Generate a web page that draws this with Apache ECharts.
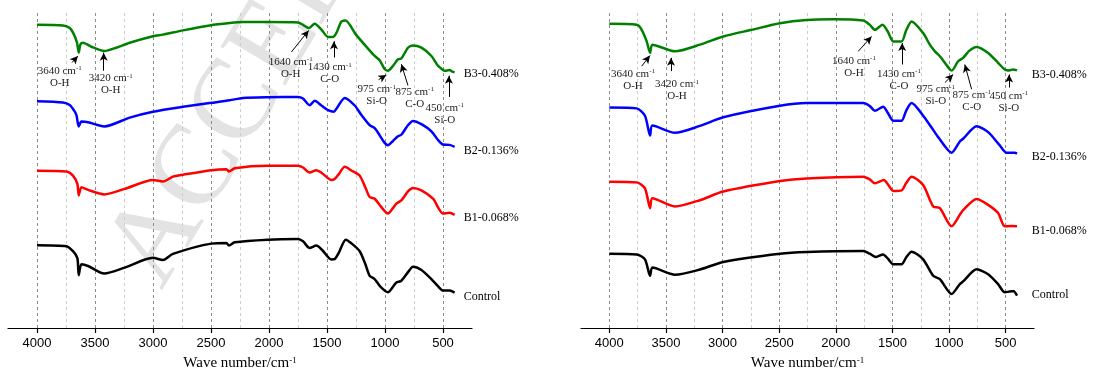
<!DOCTYPE html>
<html><head><meta charset="utf-8">
<script src="https://cdn.jsdelivr.net/npm/echarts@6/dist/echarts.min.js"></script>
<style>html,body{margin:0;padding:0;background:#fff}#c{width:1094px;height:376px}</style>
</head><body><div id="c"></div>
<script>
// ---------- data (wavenumber cm-1, relative transmittance, offset stacked) ----------
const seriesNames = ['Control', 'B1-0.068%', 'B2-0.136%', 'B3-0.408%'];
const xTicks = [500, 1000, 1500, 2000, 2500, 3000, 3500, 4000];
const xMinorGrid = [750, 1250, 1750, 2250, 2750, 3250, 3750];
const peakWn = ['3640', '3420', '1640', '1430', '975', '875', '450'];
const peakBond = ['O-H', 'O-H', 'O-H', 'C-O', 'Si-O', 'C-O', 'Si-O'];

const leftControl = [[4000,84],[3747,83],[3690,78],[3652,71],[3640,53.7],[3617,64.7],[3560,63],[3420,55.3],[3244,61.3],[3000,71.3],[2914,69],[2828,75.3],[2497,85.7],[2367,86.3],[2345,83.7],[2296,87],[2009,89.7],[1750,90.3],[1707,88],[1650,81.3],[1592,83.7],[1540,79],[1462,69.7],[1434,70],[1400,76],[1338,89.7],[1290,86],[1218,78],[1170,65],[1132,53],[1089,49.7],[1040,42],[975,36.3],[930,42],[902,46.3],[859,48],[800,57],[759,62.3],[686,59],[600,49.7],[540,42],[500,38],[443,38],[400,36]];
const leftB1 = [[4000,159.7],[3747,159],[3690,154.7],[3652,146.3],[3640,134.7],[3617,143],[3560,140.3],[3420,135.7],[3244,141.3],[3000,150.3],[2914,148.7],[2828,153.7],[2741,155.7],[2497,160.3],[2367,161.3],[2345,159],[2296,162.3],[2009,164.7],[1750,164.7],[1707,163],[1650,158],[1592,160.3],[1540,157],[1462,150.3],[1434,151.3],[1400,156],[1347,163.7],[1290,160],[1218,154.7],[1170,143],[1132,133],[1089,131.3],[1040,124],[975,116.3],[930,122],[902,126.3],[859,129.7],[800,139],[759,142.3],[686,139.7],[586,131.3],[540,122],[500,116.3],[443,117],[400,115]];
const leftB2 = [[4000,230.3],[3776,229],[3718,226.5],[3681,221],[3660,216.3],[3640,204.7],[3617,209.7],[3560,209],[3420,204.7],[3201,213.7],[3000,219.7],[2741,224.7],[2497,228.7],[2339,231.3],[2224,233.7],[2009,234.5],[1750,234.7],[1707,233],[1650,226.3],[1606,230.7],[1548,226],[1491,221.3],[1440,219.7],[1417,223],[1347,233.7],[1261,226],[1203,216.3],[1132,206],[1089,203],[1046,195.7],[1003,188],[975,185.7],[931,190],[888,194.7],[859,196.3],[802,206],[759,210.3],[686,207],[600,199.7],[543,191],[500,186.3],[443,186],[400,184]];
const leftB3 = [[4000,308],[3776,307.3],[3718,304.7],[3681,298],[3655,289.7],[3640,279.7],[3626,288],[3603,289.7],[3531,285.7],[3420,281.3],[3316,284.7],[3201,289.7],[3000,296.3],[2914,298],[2741,302.3],[2511,307.3],[2339,309.7],[2224,310.7],[2009,310.7],[1750,310.3],[1707,308],[1658,304.7],[1606,309],[1548,303],[1491,295.7],[1448,295.7],[1419,299.7],[1376,311.3],[1341,312.3],[1250,298],[1165,286.3],[1089,276.3],[1046,272],[1003,263],[975,261.3],[931,266.3],[888,273],[859,273.7],[802,284.7],[759,287],[686,284.7],[600,276.3],[543,266.3],[500,262],[486,261.3],[443,262],[420,260.3],[400,259.7]];

const rightControl = [[4000,75],[3758,74.3],[3685,69.3],[3640,52.7],[3620,61],[3420,53.7],[3200,59],[2994,66.7],[2493,75],[2257,76.7],[1758,77.7],[1700,75],[1647,71.7],[1582,74.3],[1540,70],[1493,64.3],[1419,64.3],[1380,71],[1331,77],[1229,69.3],[1140,52.7],[1081,49.3],[978,34.3],[905,44.3],[876,47],[757,59.3],[655,54.3],[567,44.3],[508,36],[450,37],[430,37],[400,32.7]];
const rightB1 = [[4000,147.7],[3758,147],[3685,141],[3640,121],[3620,131],[3420,122.7],[3200,129],[2994,137.7],[2493,148.3],[2257,151],[1758,152.7],[1700,150],[1655,146],[1575,149.3],[1540,145],[1493,138.3],[1419,139],[1380,146],[1331,152.7],[1229,144.3],[1140,122.7],[1081,121],[978,102.7],[905,114.3],[876,119],[757,130.3],[655,124.3],[567,116],[508,102.7],[450,103],[400,102.7]];
const rightB2 = [[4000,222.7],[3758,221.7],[3685,214.3],[3640,194.3],[3620,204.3],[3420,197],[3200,204],[2994,212.7],[2493,224.3],[2257,227],[1758,227],[1700,224],[1655,219.3],[1582,223.3],[1540,217],[1493,209.3],[1419,209.3],[1380,219],[1331,227],[1229,214.3],[1140,200],[1096,192.7],[978,177],[905,188.3],[876,191],[757,203.7],[655,197.7],[552,184.3],[493,177],[450,177],[419,177],[400,176]];
const rightB3 = [[4000,307],[3758,306],[3714,301],[3670,289.3],[3640,277.7],[3620,286],[3420,279.3],[3200,286],[2994,294.3],[2743,301],[2493,307.7],[2257,311],[2023,311.7],[1758,310.3],[1700,306],[1655,301],[1588,306],[1540,299],[1493,289.3],[1419,289.3],[1380,300],[1331,309.3],[1229,297.7],[1170,286],[1125,279.3],[1081,274.3],[993,261],[975,260],[920,269.3],[876,272.7],[820,280],[757,283.7],[655,277.7],[567,267.7],[508,261],[470,260],[434,261],[400,260]];

// ---------- layout (annotation placement in data coordinates) ----------
const leftLabelAt = [[3804,255],[3365,247.5],[1813,264],[1477,258.5],[1072,236.5],[744,233.7],[485,217.5]];
const leftArrows = [[3698,269.7,3647,276.3],[3425,261.3,3425,279.7],[1807,280.3,1658,302.3],[1440,274.7,1440,291.3],[1055,252.3,988,257],[802,246.3,859,268],[449,234.7,449,256.3]];
const leftNameAt = [[322,32],[322,112],[322,180],[322,258]];
const rightLabelAt = [[3791,250.5],[3402,240],[1840,263.5],[1443,250.4],[1117,234.7],[799,229],[472,228]];
const rightArrows = [[3714,264.3,3641,275],[3455,259.3,3455,272.7],[1802,279.3,1684,294.3],[1414,266,1414,287.7],[1037,247.7,964,256],[801,241,861,266],[470,242.7,470,256]];
const rightNameAt = [[269,33],[269,98],[269,173],[269,256]];

const colors = ['#000000', '#ff0000', '#0000ff', '#008000'];
const serif = '"Liberation Serif","Times New Roman",serif';
const sans = '"Liberation Sans",Arial,sans-serif';

function annotationPoints(labelAt) {
  return labelAt.map((p, i) => ({
    coord: p,
    label: {
      show: true, position: 'inside', align: 'center', verticalAlign: 'middle',
      formatter: peakWn[i] + ' cm{sup|-1}\n' + peakBond[i],
      color: '#222', fontFamily: serif, fontSize: 11, lineHeight: 12,
      rich: { sup: { fontSize: 7, verticalAlign: 'top', fontFamily: serif, color: '#222', lineHeight: 12 } }
    }
  }));
}

function panelSeries(panel, datasets, nameAt, labelAt, arrows) {
  return datasets.map((d, k) => {
    const s = {
      type: 'line', name: seriesNames[k], data: d,
      xAxisIndex: panel, yAxisIndex: panel,
      symbol: 'none', showSymbol: false, smooth: 0.25,
      lineStyle: { color: colors[k], width: 2.5 }, itemStyle: { color: colors[k] },
      z: 3, silent: true, animation: false,
      markPoint: {
        symbol: 'circle', symbolSize: 0, silent: true, animation: false,
        data: [{
          coord: nameAt[k],
          label: { show: true, position: 'right', distance: 0, formatter: seriesNames[k],
                   color: '#000', fontFamily: serif, fontSize: 12 }
        }]
      }
    };
    if (k === 0) {
      s.markLine = {
        silent: true, symbol: ['none', 'none'], z: 1, animation: false, label: { show: false },
        data: xTicks.map(v => ({ xAxis: v, lineStyle: { color: '#8c8c8c', type: [3, 3], width: 1 } }))
          .concat(xMinorGrid.map(v => ({ xAxis: v, lineStyle: { color: '#cccccc', type: [3, 3], width: 1 } })))
      };
    }
    if (k === 3) {
      s.markPoint.data = s.markPoint.data.concat(annotationPoints(labelAt));
      s.markLine = {
        silent: true, z: 5, animation: false, symbol: ['none', 'arrow'], symbolSize: [6, 8],
        label: { show: false }, lineStyle: { color: '#000', width: 1, type: 'solid' },
        emphasis: { disabled: true },
        data: arrows.map(a => [{ coord: [a[0], a[1]] }, { coord: [a[2], a[3]] }])
      };
    }
    return s;
  });
}

function xAxisFor(gi) {
  return {
    gridIndex: gi, type: 'value', min: 250, max: 4250, inverse: true,
    axisLine: { show: true, onZero: false, lineStyle: { color: '#000', width: 1.2 } },
    axisTick: { show: true, customValues: xTicks, length: 5, lineStyle: { color: '#000', width: 1.2 } },
    axisLabel: { show: true, customValues: xTicks, formatter: v => String(v), color: '#000', fontFamily: sans, fontSize: 13, margin: 9 },
    splitLine: { show: false },
    name: 'Wave number/cm{sup|-1}', nameLocation: 'middle', nameGap: 28,
    nameTextStyle: { color: '#000', fontFamily: serif, fontSize: 15,
      rich: { sup: { fontSize: 9, verticalAlign: 'top', fontFamily: serif, color: '#000' } } }
  };
}

const chart = echarts.init(document.getElementById('c'), null, { renderer: 'canvas' });
chart.setOption({
  animation: false,
  backgroundColor: '#ffffff',
  grid: [
    { left: 8, top: 10, width: 464, height: 323 },
    { left: 581, top: 10, width: 453, height: 321 }
  ],
  xAxis: [xAxisFor(0), xAxisFor(1)],
  yAxis: [
    { gridIndex: 0, type: 'value', min: 0, max: 323, show: false },
    { gridIndex: 1, type: 'value', min: 0, max: 321, show: false }
  ],
  graphic: [{
    type: 'text', x: 185, y: 305, rotation: 59 * Math.PI / 180, z: -1, silent: true,
    style: { text: 'ACCEPTED', font: '115px "Liberation Serif"', fill: '#e3e3e3', textVerticalAlign: 'bottom' }
  }],
  series: panelSeries(0, [leftControl, leftB1, leftB2, leftB3], leftNameAt, leftLabelAt, leftArrows)
    .concat(panelSeries(1, [rightControl, rightB1, rightB2, rightB3], rightNameAt, rightLabelAt, rightArrows))
});
</script></body></html>
